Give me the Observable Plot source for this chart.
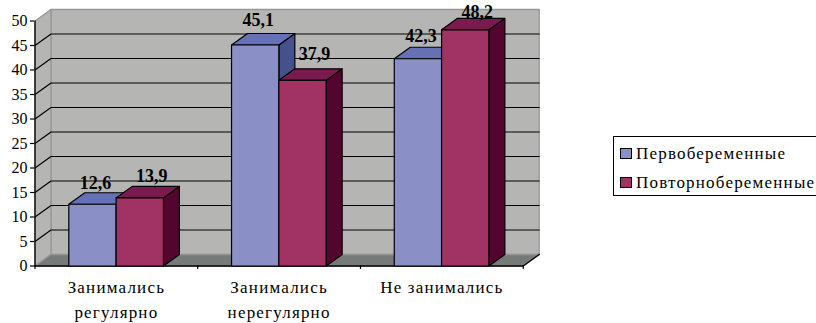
<!DOCTYPE html>
<html lang="ru">
<head>
<meta charset="utf-8">
<script src="https://cdn.jsdelivr.net/npm/d3@7"></script>
<script src="https://cdn.jsdelivr.net/npm/@observablehq/plot@0.6"></script>
<style>
  html, body { margin: 0; padding: 0; background: #fff; overflow: hidden; }
  #page { display: flex; width: 816px; height: 323px; align-items: flex-start; font-family: "Liberation Serif", serif; }
  #legend { margin: 136px 0 0 5px; width: 220px; flex: none; height: 60px; border: 1px solid #000; box-sizing: border-box;
            font-size: 17px; letter-spacing: 1.2px; color: #000; padding-top: 2px; }
  #legend .row { display: flex; align-items: center; height: 29px; padding-left: 6px; }
  #legend .sw { width: 10px; height: 9px; border: 1px solid #000; margin-right: 4px; flex: none; }
</style>
</head>
<body>
<div id="page"></div>
<script>
const categories = ["Занимались\nрегулярно", "Занимались\nнерегулярно", "Не занимались"];
const seriesNames = ["Первобеременные", "Повторнобеременные"];
const first = [12.6, 45.1, 42.3];
const repeat = [13.9, 37.9, 48.2];
const levels = [5, 10, 15, 20, 25, 30, 35, 40, 45];

// Oblique projection: depth is expressed in scale units on both axes
const depthX = 0.0983, depthY = 2.35;
const gap = 0.2077, barW = 0.2907;
const palette = [
  {front: "#8a8fc6", top: "#6670b4", side: "#45518a"},
  {front: "#a03264", top: "#7b1a4e", side: "#54052f"}
];
const wall = "#b5b6b4", floor = "#767a78", edge = "#969696";

const poly = (rows, id, color, pts) =>
  pts.forEach(([x, y]) => rows.push({id, color, x, y}));

// Bar faces in painter's order, back to front
const barFaces = [];
categories.forEach((_, c) => {
  [first, repeat].forEach((values, s) => {
    const x0 = c + gap + s * barW, x1 = x0 + barW, v = values[c], col = palette[s];
    poly(barFaces, `${c}-${s}-side`, col.side, [[x1, 0], [x1 + depthX, depthY], [x1 + depthX, v + depthY], [x1, v]]);
    poly(barFaces, `${c}-${s}-top`, col.top, [[x0, v], [x1, v], [x1 + depthX, v + depthY], [x0 + depthX, v + depthY]]);
    poly(barFaces, `${c}-${s}-front`, col.front, [[x0, 0], [x1, 0], [x1, v], [x0, v]]);
  });
});

const walls = [];
poly(walls, "back", wall, [[depthX, depthY], [3 + depthX, depthY], [3 + depthX, 50 + depthY], [depthX, 50 + depthY]]);
poly(walls, "side", wall, [[0, 0], [depthX, depthY], [depthX, 50 + depthY], [0, 50]]);
poly(walls, "floor", floor, [[0, 0], [3, 0], [3 + depthX, depthY], [depthX, depthY]]);

const gridRows = levels.flatMap(v => [
  {v, x: 0, y: v}, {v, x: depthX, y: v + depthY}, {v, x: 3 + depthX, y: v + depthY}
]);

// Per-bar lift of the value labels above the front top edge, in pixels
const labelLift = [[-15, -16], [-19, -20], [-17, -12]];
const labelShift = [3, 12];
const valueLabels = [first, repeat].flatMap((values, s) => values.map((v, c) =>
  Plot.text([{x: c + gap + s * barW + barW / 2, y: v, t: String(v).replace(".", ",")}], {
    x: "x", y: "y", text: "t", dx: labelShift[s], dy: labelLift[c][s],
    lineAnchor: "bottom", fontWeight: "bold", fontSize: 18, fill: "#000"
  })));

const chart = Plot.plot({
  width: 608, height: 323,
  marginLeft: 34, marginRight: 70, marginTop: 9, marginBottom: 58,
  x: {domain: [0, 3 + depthX], range: [34.5, 538.7], axis: null},
  y: {domain: [0, 52.35], range: [265.5, 9], axis: null},
  color: {type: "identity"},
  style: {fontFamily: "'Liberation Serif', serif", fontSize: "16px", color: "#000", background: "#fff", overflow: "visible"},
  marks: [
    Plot.line(walls, {x: "x", y: "y", z: "id", fill: "color", stroke: edge, strokeWidth: 1.3, curve: "linear-closed"}),
    Plot.line(gridRows, {x: "x", y: "y", z: "v", stroke: "#000", strokeWidth: 1.2}),
    Plot.line([{x: 0, y: 0}, {x: 3, y: 0}, {x: 3 + depthX, y: depthY}], {x: "x", y: "y", stroke: "#000", strokeWidth: 1.3}),
    Plot.line([{x: 0, y: 0}, {x: 0, y: 50}], {x: "x", y: "y", stroke: "#000", strokeWidth: 1.3}),
    Plot.line(barFaces, {x: "x", y: "y", z: "id", fill: "color", stroke: "#000", strokeWidth: 1.2, curve: "linear-closed"}),
    Plot.axisY({ticks: d3.range(0, 51, 5), anchor: "left", tickSize: 4, tickPadding: 3, label: null, strokeWidth: 1.2, stroke: "#000"}),
    Plot.axisX({ticks: [0, 1, 2, 3], tickSize: 4, tickFormat: () => "", label: null, strokeWidth: 1.2, stroke: "#000"}),
    Plot.axisX({ticks: [0.5, 1.5, 2.5], tickSize: 0, tickPadding: 10, fontSize: 17, tickFormat: d => categories[d - 0.5], lineHeight: 1.45, label: null, textOverflow: null}),
    ...valueLabels
  ]
});

const page = document.getElementById("page");
page.append(chart);
chart.querySelectorAll('[aria-label="x-axis tick label"] text').forEach(t => t.setAttribute("letter-spacing", "1.2"));

// Legend to the right of the plot
const legend = document.createElement("div");
legend.id = "legend";
seriesNames.forEach((name, i) => {
  const row = document.createElement("div");
  row.className = "row";
  const sw = document.createElement("span");
  sw.className = "sw";
  sw.style.background = palette[i].front;
  const label = document.createElement("span");
  label.textContent = name;
  row.append(sw, label);
  legend.append(row);
});
page.append(legend);
</script>
</body>
</html>
